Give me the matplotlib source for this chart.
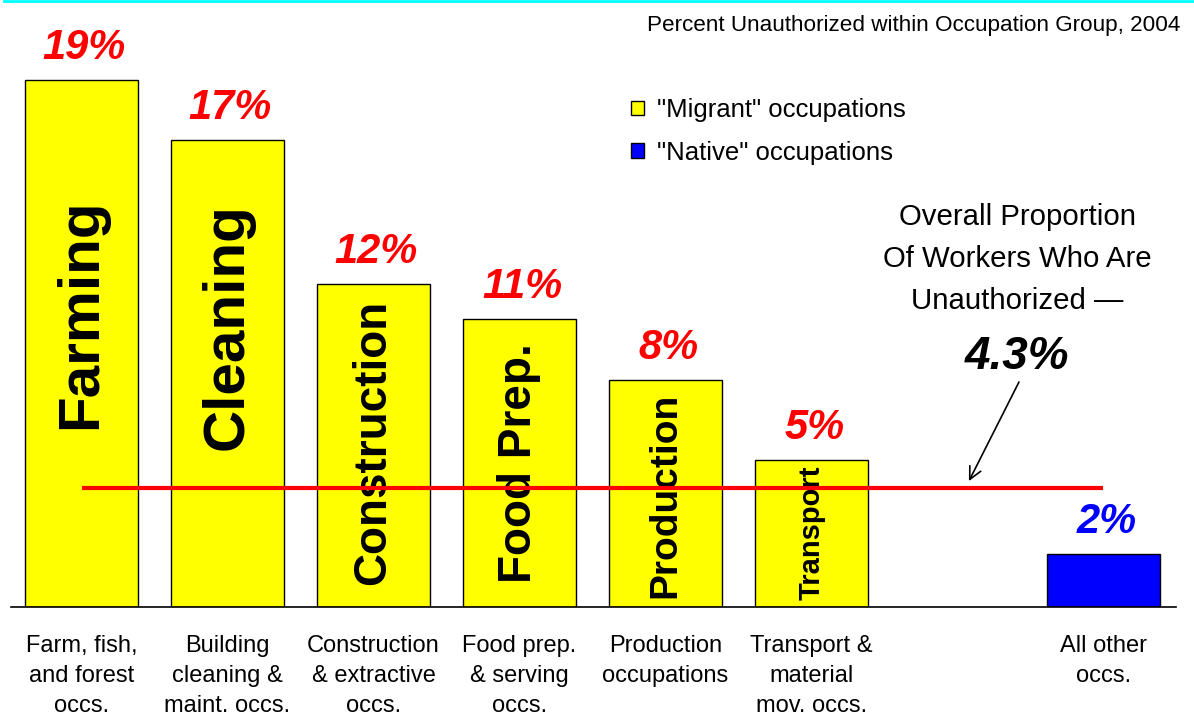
import matplotlib
matplotlib.use("Agg")
import matplotlib.pyplot as plt
from matplotlib.patches import Patch
from matplotlib.lines import Line2D

# ---- data ----
categories = ["Farm, fish,\nand forest\noccs.",
              "Building\ncleaning &\nmaint. occs.",
              "Construction\n& extractive\noccs.",
              "Food prep.\n& serving\noccs.",
              "Production\noccupations",
              "Transport &\nmaterial\nmov. occs.",
              "All other\noccs."]
positions = [0, 1, 2, 3, 4, 5, 7]
values = [19.0, 16.85, 11.65, 10.4, 8.2, 5.3, 1.9]
value_labels = ["19%", "17%", "12%", "11%", "8%", "5%", "2%"]
bar_names = ["Farming", "Cleaning", "Construction", "Food Prep.", "Production", "Transport", ""]
group = ["Migrant", "Migrant", "Migrant", "Migrant", "Migrant", "Migrant", "Native"]
overall = 4.3

# ---- styles ----
FONT = "Liberation Sans"
plt.rcParams['font.family'] = [FONT, 'DejaVu Sans']
colors = {"Migrant": "#FFFF00", "Native": "#0000FF"}
label_colors = {"Migrant": "#FF0000", "Native": "#0000FF"}
name_sizes = [42, 42, 33, 33, 28, 21, 10]
name_bottom = [6.4, 5.66, 0.8, 0.87, 0.32, 0.25, 0.3]

W, H = 1194, 717
fig = plt.figure(figsize=(W / 100, H / 100), dpi=100)
ax = fig.add_axes([11 / W, (H - 607) / H, 1165 / W, 607 / H])
ax.set_xlim(-0.483, 7.497)
ax.set_ylim(0, 607 / 27.74)

bars = ax.bar(positions, values, width=0.774,
              color=[colors[g] for g in group],
              edgecolor="black", linewidth=1.0, zorder=2)

for x, v, lab, g in zip(positions, values, value_labels, group):
    ax.annotate(lab, (x, v), xytext=(2, 23), textcoords="offset points",
                ha="center", va="center", fontsize=30, fontweight="bold",
                fontstyle="italic", color=label_colors[g], zorder=4)

for x, name, s, b in zip(positions, bar_names, name_sizes, name_bottom):
    if name:
        ax.text(x, b, name, rotation=90, rotation_mode="anchor",
                ha="left", va="center", fontsize=s, fontweight="bold",
                color="black", zorder=3)

# overall line
ax.plot([positions[0], positions[-1]], [overall, overall], color="#FF0000",
        lw=3, zorder=5, solid_capstyle="butt")

ax.annotate("", xy=(6.07, 4.45), xytext=(6.43, 8.2),
            arrowprops=dict(arrowstyle="->", lw=1.2, color="black",
                            mutation_scale=22))
ax.text(6.41, 9.0, "4.3%", ha="center", va="center", fontsize=33,
        fontweight="bold", fontstyle="italic", color="black")
ax.text(6.41, 12.55, "Overall Proportion\nOf Workers Who Are\nUnauthorized \u2014",
        ha="center", va="center", fontsize=21.2, color="black",
        linespacing=1.62)

# axes styling
for sp in ["top", "right", "left"]:
    ax.spines[sp].set_visible(False)
ax.spines["bottom"].set_linewidth(1.2)
ax.set_yticks([])
ax.set_xticks(positions, categories)
ax.tick_params(axis="x", length=0, pad=20, labelsize=17)
for t in ax.get_xticklabels():
    t.set_linespacing(1.47)

# legend
handles = [Patch(facecolor=colors["Migrant"], edgecolor="black", linewidth=1),
           Patch(facecolor=colors["Native"], edgecolor="black", linewidth=1)]
leg = ax.legend(handles, ['"Migrant" occupations', '"Native" occupations'],
                loc="upper left", bbox_to_anchor=(610 / 1165, 1 - 88 / 607),
                frameon=False, fontsize=18.5, handlelength=0.5, handleheight=0.5,
                handletextpad=0.5, labelspacing=0.72, borderaxespad=0)

# title
fig.text(1180 / W, 1 - 25 / H, "Percent Unauthorized within Occupation Group, 2004",
         ha="right", va="center", fontsize=16.2, color="black")

# top cyan rule
fig.add_artist(Line2D([4 / W, 1.0], [1 - 1 / H, 1 - 1 / H], color="#00FFFF",
                      lw=2, transform=fig.transFigure))

fig.savefig("out.png", dpi=100)
